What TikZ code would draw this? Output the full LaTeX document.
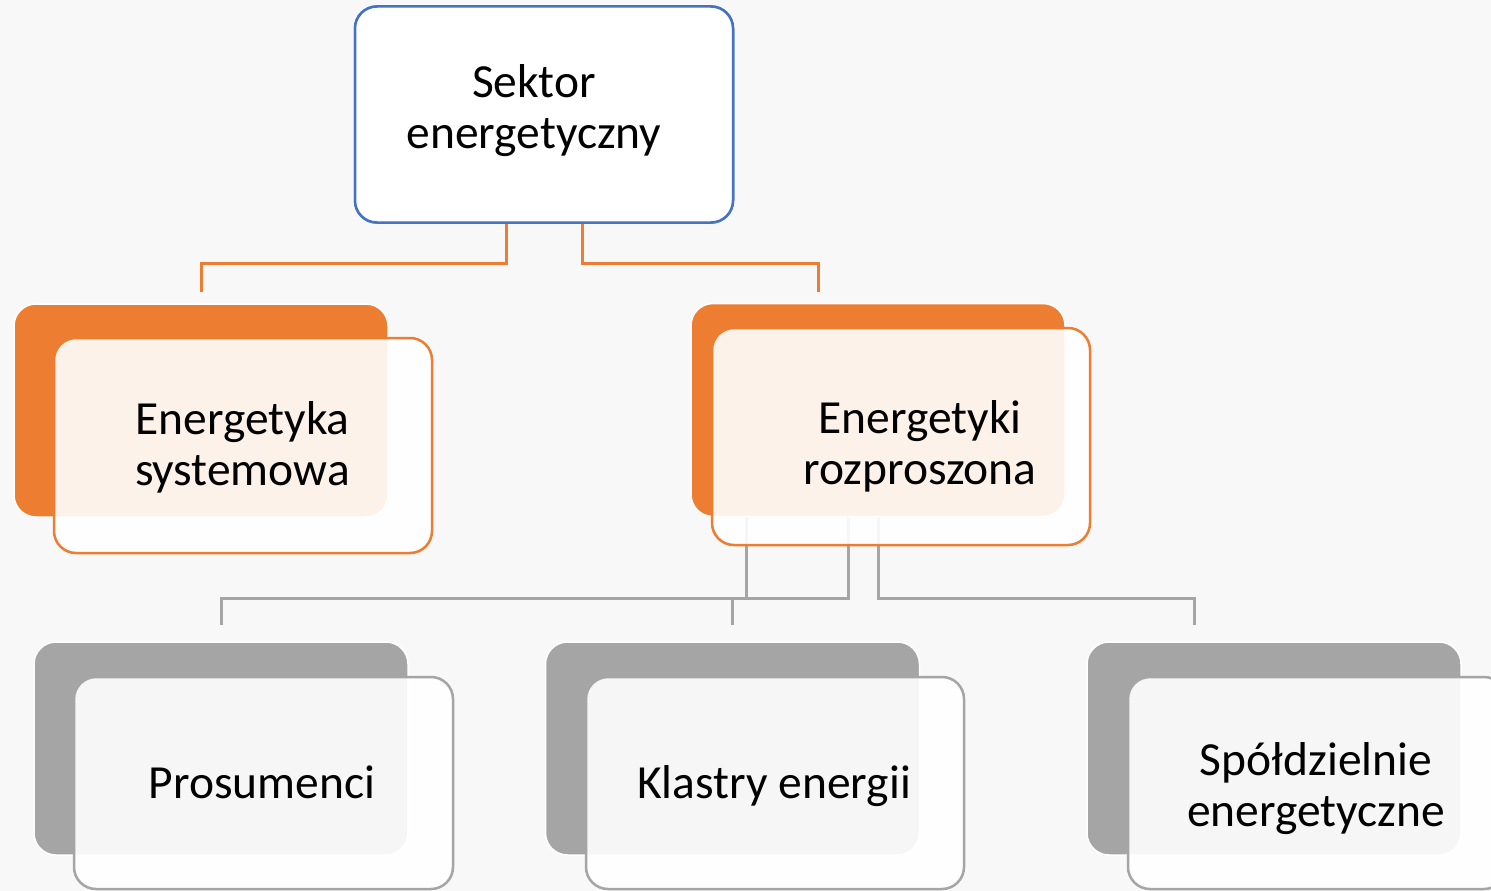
\documentclass[tikz,border=0pt]{standalone}
\usepackage{fontspec}
\setmainfont{Carlito}
\usetikzlibrary{calc}
\definecolor{bgc}{HTML}{F8F8F8}
\definecolor{ora}{HTML}{ED7D31}
\definecolor{blu}{HTML}{4472C4}
\definecolor{gry}{HTML}{A5A5A5}
\tikzset{
  topbox/.style={draw=blu, line width=2.5, fill=white, rounded corners=22, minimum width=378, minimum height=216, inner sep=0},
  backbox/.style={draw=white, line width=1.5, fill=#1, rounded corners=22, minimum width=374, minimum height=213, inner sep=0},
  frontbox/.style={draw=#1, line width=2.5, fill=white, fill opacity=0.9, rounded corners=22, minimum width=378, minimum height=214, inner sep=0},
  lbl/.style={align=center, inner sep=0, font=\fontsize{47.5}{51}\selectfont},
  oconn/.style={draw=ora, line width=3},
  gconn/.style={draw=gry, line width=3},
}
\begin{document}
\begin{tikzpicture}[x=1pt,y=-1pt]
\useasboundingbox (0,0) rectangle (1491,891);
\clip (0,0) rectangle (1491,891);
\fill[bgc] (0,0) rectangle (1491,891);

% back boxes
\node[backbox=ora] (lbb) at (201,410.5) {};
\node[backbox=ora] (rbb) at (878,410) {};
\node[backbox=gry] (pb) at (221,748.5) {};
\node[backbox=gry] (kb) at (732.5,748.5) {};
\node[backbox=gry] (sb) at (1274,748.5) {};

% top box
\node[topbox] (top) at (544,114.5) {};

% connectors top -> second level
\draw[oconn] ($(top.south)+(-38,-6)$) -- ++(0,46) -| ($(lbb.north)+(0,-11)$);
\draw[oconn] ($(top.south)+(38,-6)$) -- ++(0,46) -| ($(rbb.north)+(-60,-11)$);
% redraw top box over connector starts
\node[topbox] (top2) at (top) {};

% connectors second level -> third level (behind back box start)
\draw[gconn] ($(rbb.south)+(-132,0)$) -- ($(rbb.south)+(-132,81)$) -| ($(pb.north)+(0,-16)$);
\draw[gconn] ($(rbb.south)+(-30,0)$) -- ($(rbb.south)+(-30,81)$) -| ($(kb.north)+(0,-16)$);
\draw[gconn] (rbb.south) -- ($(rbb.south)+(0,81)$) -| ($(sb.north)+(-80,-16)$);

% front boxes
\node[frontbox=ora, minimum height=215] (lbf) at (243,445.5) {};
\node[frontbox=ora, minimum height=217] (rbf) at (901,436.5) {};
\node[frontbox=gry, minimum height=212, minimum width=379] (pf) at (263.5,783) {};
\node[frontbox=gry, minimum height=212] (kf) at (775,783) {};
\node[frontbox=gry, minimum height=212] (sf) at (1317,783) {};

% labels
\node[lbl] (ttop) at (534,111) {Sektor\\energetyczny};
\node[lbl] (tlb) at (242.5,447.5) {Energetyka\\systemowa};
\node[lbl] (trb) at (920,446.5) {Energetyki\\rozproszona};
\node[lbl] (tp) at (262,782.5) {Prosumenci};
\node[lbl] (tk) at (774,786) {Klastry energii};
\node[lbl] (ts) at (1316,788.5) {Spółdzielnie\\energetyczne};
\end{tikzpicture}
\end{document}
